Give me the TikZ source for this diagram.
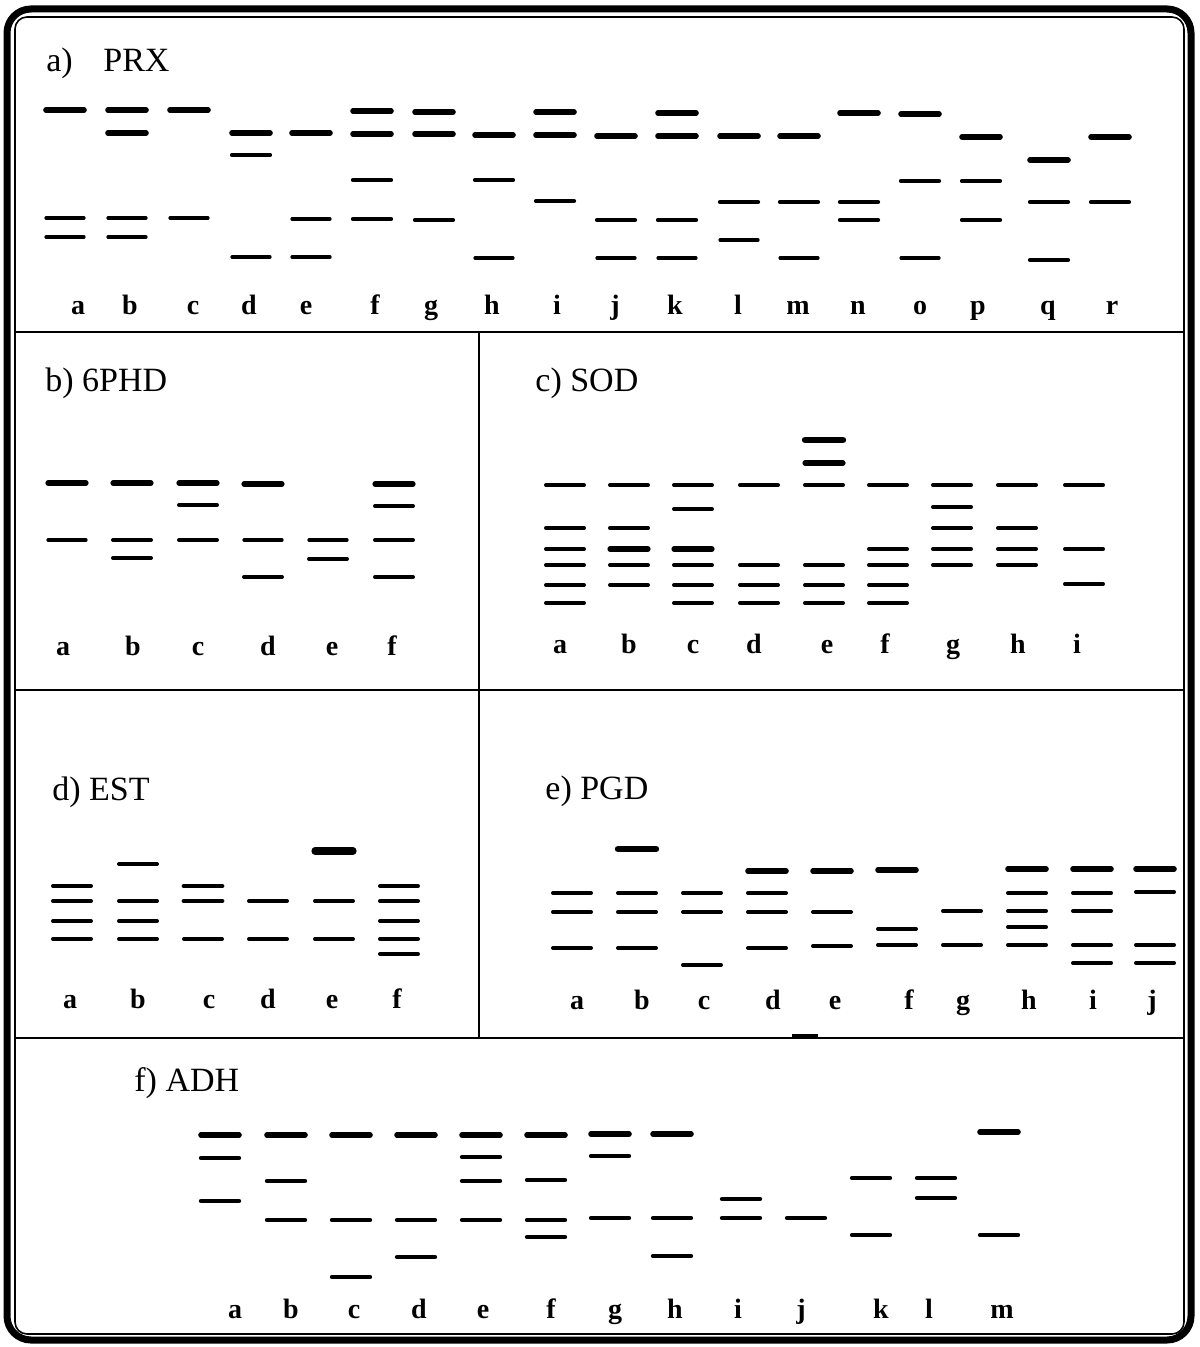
\documentclass[tikz,border=0pt]{standalone}
\usepackage{fontspec}
\setmainfont{Liberation Serif}
\begin{document}
\begin{tikzpicture}[x=0.5pt,y=-0.5pt,
  band/.style={line cap=round},
  rule/.style={line width=0.9pt},
  title/.style={anchor=base west,inner sep=0pt,font=\fontsize{17}{20}\selectfont},
  lane/.style={anchor=base,inner sep=0pt,font=\fontsize{14}{16}\selectfont\bfseries}]
\useasboundingbox (0,0) rectangle (1199,1347);
% frame and panel rules
\draw[line width=3.5pt,rounded corners=12pt] (7,9) rectangle (1191,1340);
\draw[line width=0.8pt,rounded corners=6pt] (15,17) rectangle (1184,1334);
\draw[rule] (15,332) -- (1184,332);
\draw[rule] (15,690) -- (1184,690);
\draw[rule] (15,1038) -- (1184,1038);
\draw[rule] (479,332) -- (479,1038);
\draw[line width=2pt] (792,1036) -- (818,1036);
% titles
\node[title] (ta) at (46,72) {a)\hspace{0.9em}PRX};
\node[title] (tb) at (45,392) {b) 6PHD};
\node[title] (tc) at (535,392) {c) SOD};
\node[title] (td) at (52,800) {d) EST};
\node[title] (te) at (545,799) {e) PGD};
\node[title] (tf) at (134,1091) {f) ADH};
% a) PRX
\foreach \x/\y/\w in {65/110/2.8,65/218/1.6,65/237/1.6,127/110/2.8,127/133/2.8,127/218/1.6,127/237/1.6,
  189/110/2.8,189/218/1.6,251/133/2.8,251/155/2.1,251/257/1.6,311/133/2.8,311/219/1.6,311/257/1.6,
  372/111/2.8,372/134/2.8,372/180/2.1,372/219/2.1,434/112/2.8,434/134/2.8,434/220/2.1,
  494/135/2.8,494/180/2.1,494/258/1.6,555/112/2.8,555/135/2.8,555/201/2.1,
  616/136/2.8,616/220/2.1,616/258/1.6,677/113/2.8,677/136/2.8,677/220/2.1,677/258/1.6,
  739/136/2.8,739/202/2.1,739/240/1.6,799/136/2.8,799/202/2.1,799/258/1.6,
  859/113/2.8,859/202/2.1,859/220/2.1,920/114/2.8,920/181/2.1,920/258/1.6,
  981/137/2.8,981/181/2.1,981/220/2.1,1049/160/2.8,1049/202/2.1,1049/260/2.1,1110/137/2.8,1110/202/2.1}
  \draw[band,line width=\w*1pt] (\x-19,\y) -- (\x+19,\y);
\foreach \l/\x in {a/78,b/130,c/193,d/249,e/306,f/375,g/431,h/492,i/557,j/615,k/675,l/738,m/798,n/858,o/920,p/978,q/1048,r/1112}
  \node[lane] (pa-\l) at (\x,315) {\l};
% b) 6PHD
\foreach \x/\y/\w in {67/483/2.6,67/540/1.6,132/483/2.6,132/540/2,132/558/2,198/483/2.6,198/505/2,198/540/2,
  263/484/2.6,263/540/1.6,263/577/2,328/540/1.6,328/559/2,394/484/2.6,394/506/2,394/540/2,394/577/2}
  \draw[band,line width=\w*1pt] (\x-19,\y) -- (\x+19,\y);
\foreach \l/\x in {a/63,b/133,c/198,d/268,e/332,f/392}
  \node[lane] (pb-\l) at (\x,655) {\l};
% c) SOD
\foreach \x/\y/\w in {565/485/2,565/528/2,565/549/2,565/565/2,565/585/2,565/603/2,
  629/485/2,629/528/2,629/549/2.6,629/565/2,629/585/2,
  693/485/2,693/509/2,693/549/2.6,693/565/2,693/585/2,693/603/2,
  759/485/2,759/565/2,759/585/2,759/603/2,
  824/440/3.2,824/463/2.6,824/485/2,824/565/2,824/585/2,824/603/2,
  888/485/2,888/549/2,888/565/2,888/585/2,888/603/2,
  952/485/2,952/507/2,952/528/2,952/549/2,952/565/2,
  1017/485/2,1017/528/2,1017/549/2,1017/565/2,1084/485/2,1084/549/2,1084/584/2}
  \draw[band,line width=\w*1pt] (\x-19,\y) -- (\x+19,\y);
\foreach \l/\x in {a/560,b/629,c/693,d/754,e/827,f/885,g/953,h/1018,i/1077}
  \node[lane] (pc-\l) at (\x,653) {\l};
% d) EST
\foreach \x/\y/\w in {72/886/2,72/901/2,72/921/2,72/939/2,138/864/2,138/901/2,138/921/2,138/939/2,
  203/886/2.4,203/901/2.4,203/939/2,268/901/2,268/939/2,334/851/3.6,334/901/2,334/939/2,
  399/886/2,399/901/2,399/921/2,399/939/2,399/954/2}
  \draw[band,line width=\w*1pt] (\x-19,\y) -- (\x+19,\y);
\foreach \l/\x in {a/70,b/138,c/209,d/268,e/332,f/397}
  \node[lane] (pd-\l) at (\x,1008) {\l};
% e) PGD
\foreach \x/\y/\w in {572/893/2,572/912/2,572/948/2,637/849/3.2,637/893/2,637/912/2,637/948/2,
  702/893/2,702/912/2,702/965/2,767/871/2.8,767/893/2,767/912/2,767/948/2,
  832/871/2.8,832/912/2,832/946/2,897/870/2.8,897/929/2,897/945/2,962/911/2,962/945/2,
  1027/869/2.8,1027/893/2,1027/911/2,1027/927/2,1027/945/2,
  1092/869/2.8,1092/893/2,1092/911/2,1092/945/2,1092/963/2,
  1155/869/2.8,1155/892/2,1155/945/2,1155/963/2}
  \draw[band,line width=\w*1pt] (\x-19,\y) -- (\x+19,\y);
\foreach \l/\x in {a/577,b/642,c/704,d/773,e/835,f/909,g/963,h/1029,i/1093,j/1152}
  \node[lane] (pe-\l) at (\x,1009) {\l};
% f) ADH
\foreach \x/\y/\w in {220/1135/2.8,220/1158/2.2,220/1201/2.2,286/1135/2.8,286/1181/2.2,286/1220/2.2,
  351/1135/2.8,351/1220/2.2,351/1277/2.2,416/1135/2.8,416/1220/2.2,416/1257/2.2,
  481/1135/2.8,481/1157/2.2,481/1181/2.2,481/1220/2.2,546/1135/2.8,546/1180/2.2,546/1220/2.2,546/1237/2.2,
  610/1134/2.8,610/1156/2.2,610/1218/2.2,672/1134/2.8,672/1218/2.2,672/1256/2.2,
  741/1199/2.2,741/1218/2.2,806/1218/2.2,871/1178/2.2,871/1235/2.2,936/1178/2.2,936/1198/2.2,
  999/1132/2.8,999/1235/2.2}
  \draw[band,line width=\w*1pt] (\x-19,\y) -- (\x+19,\y);
\foreach \l/\x in {a/235,b/291,c/354,d/419,e/483,f/551,g/615,h/675,i/738,j/801,k/881,l/929,m/1002}
  \node[lane] (pf-\l) at (\x,1318) {\l};
\end{tikzpicture}
\end{document}
